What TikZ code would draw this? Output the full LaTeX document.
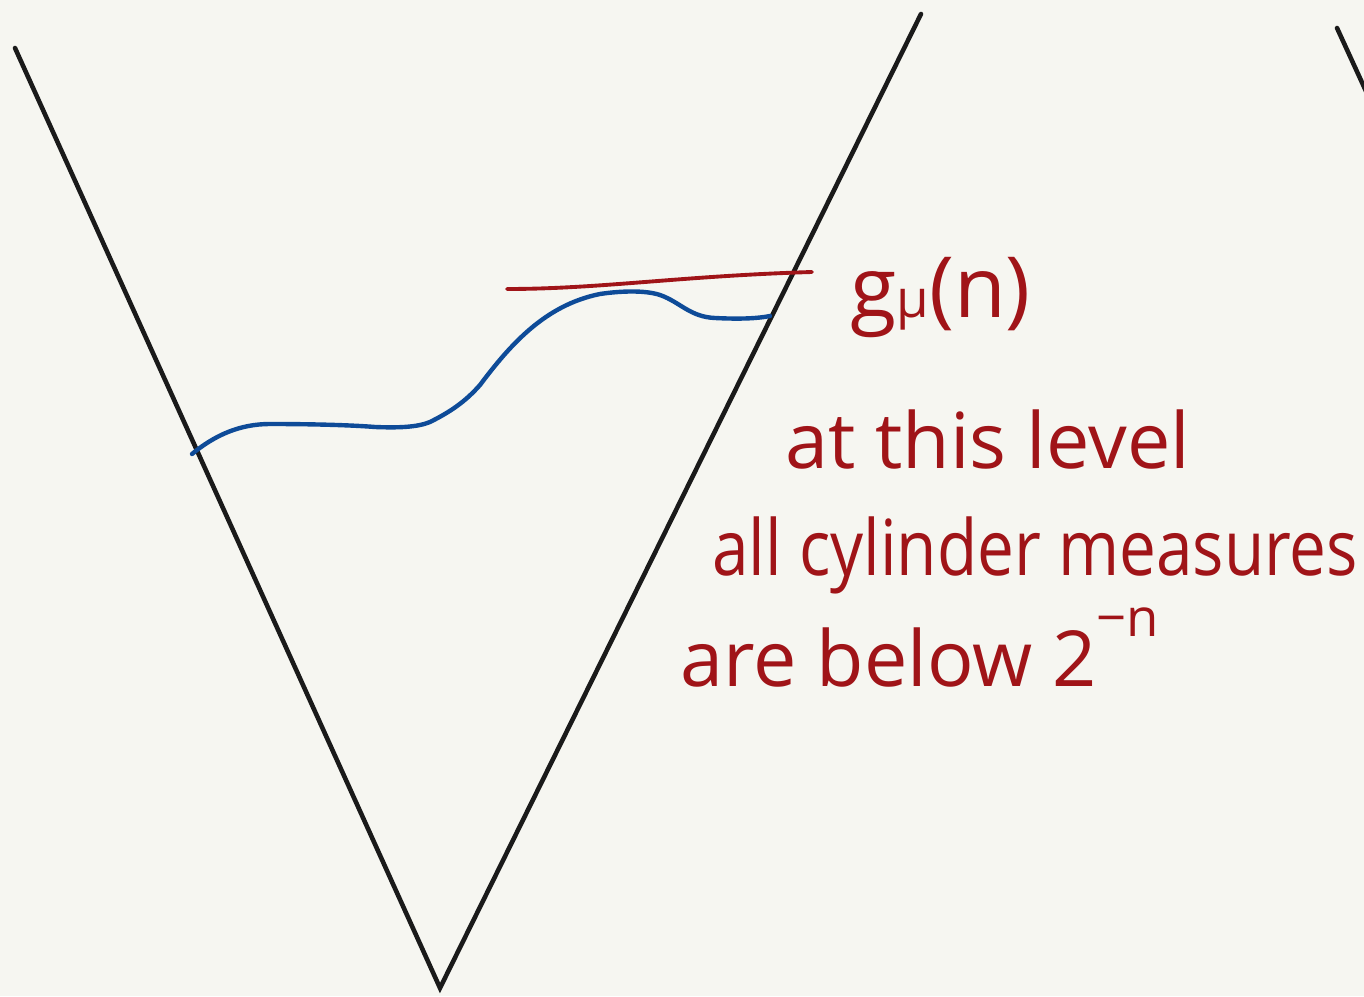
\documentclass[tikz,border=0pt]{standalone}
\usepackage{fontspec}
\usepackage{graphicx}
\setmainfont{Open Sans}
\begin{document}
\begin{tikzpicture}[x=0.02cm,y=-0.02cm,
  ink/.style={line width=2.6pt,draw=inkblack,line cap=round},
  bluecurve/.style={line width=2.5pt,draw=inkblue,line cap=round},
  redline/.style={line width=2.2pt,draw=inkred,line cap=round},
  redtext/.style={text=inkred,inner sep=0pt,anchor=base west,font=\fontsize{44}{48}\selectfont}]
\definecolor{paper}{HTML}{F6F6F1}
\definecolor{inkblack}{HTML}{1A1A1A}
\definecolor{inkblue}{HTML}{0E4B98}
\definecolor{inkred}{HTML}{A01418}
\fill[paper] (0,0) rectangle (1364,996);
\useasboundingbox (0,0) rectangle (1364,996);
% V shape
\coordinate (tl) at (15,48);
\coordinate (bot) at (440,988);
\coordinate (tr) at (921,14);
\draw[ink] (tl) -- (bot) -- (tr);
\draw[ink] (1337,28) -- (1370,100);
% red level line
\coordinate (r1) at (507,289);
\coordinate (r2) at (812,272);
\draw[redline] (r1) .. controls (600,289) and (680,276) .. (r2);
% blue curve
\draw[bluecurve] (192,454) .. controls (215,435) and (240,424) .. (270,424)
  .. controls (310,424) and (350,425) .. (375,427)
  .. controls (400,428) and (418,427) .. (430,422)
  .. controls (450,412) and (465,402) .. (480,385)
  .. controls (510,345) and (545,305) .. (600,294)
  .. controls (620,291) and (645,290) .. (660,295)
  .. controls (680,302) and (690,317) .. (715,318)
  .. controls (735,319) and (755,319) .. (770,316);
% texts
\node[redtext,font=\fontsize{48}{52}\selectfont] (g) at (850,318)
  {g{\fontsize{30}{30}\selectfont μ}(n)};
\node[redtext] (t1) at (785,468) {at this level};
\node[redtext] (t2) at (712,575) {\scalebox{0.85}[1]{all cylinder measures}};
\node[redtext] (t3) at (680,686)
  {are below 2\raisebox{28pt}{\fontsize{30}{34}\selectfont −n}};
\end{tikzpicture}
\end{document}
